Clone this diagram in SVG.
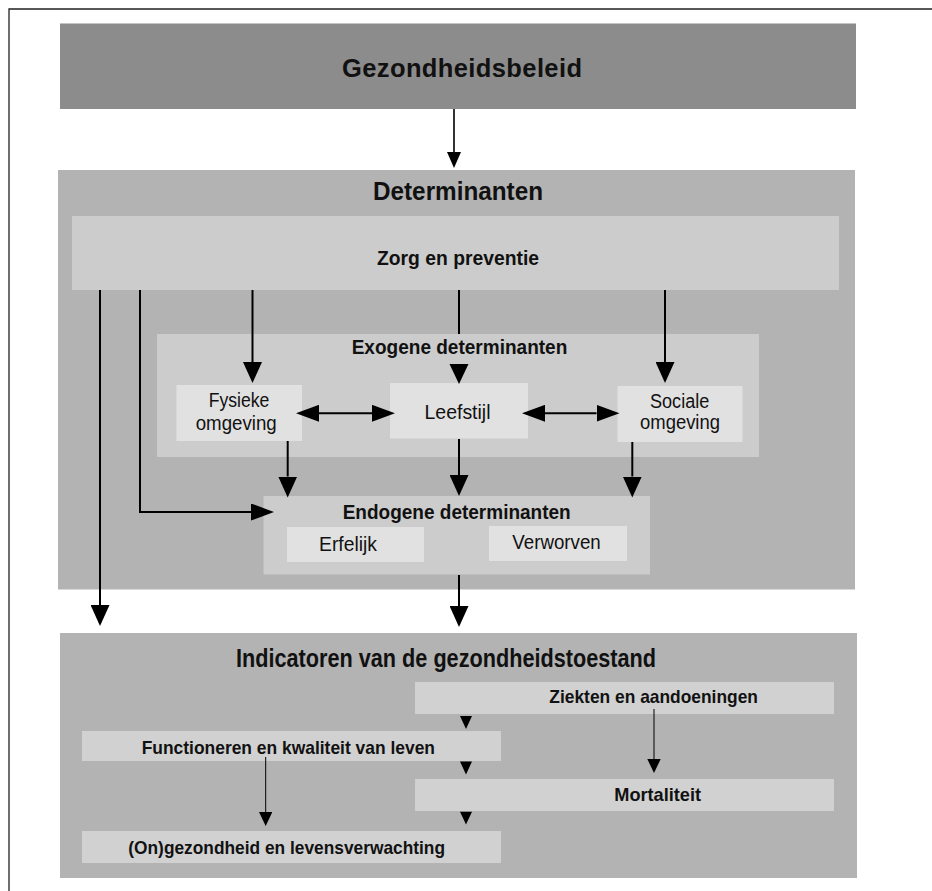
<svg xmlns="http://www.w3.org/2000/svg" width="932" height="891" viewBox="0 0 932 891">
<style>
  text { font-family: "Liberation Sans Narrow", "Liberation Sans", Arial, sans-serif; fill: #111; }
  .h1 { font-size: 25.5px; font-weight: bold; }
  .h2 { font-size: 21px; font-weight: bold; }
  .t { font-size: 25px; font-weight: bold; }
  .b { font-size: 19px; font-weight: bold; }
  .r { font-size: 19.5px; font-weight: normal; }
  .dark { fill: #8c8c8c; }
  .mid { fill: #b3b3b3; }
  .light { fill: #cccccc; }
  .pale { fill: #e1e1e1; }
  .ind { fill: #d1d1d1; }
  .heavy { fill: none; stroke: #000; stroke-width: 2; }
  .thin { fill: none; stroke: #000; stroke-width: 1; }
  .med { fill: none; stroke: #000; stroke-width: 1.6; }
  .tri { fill: #000; }
</style>
<defs>
  <marker id="ah" markerUnits="userSpaceOnUse" markerWidth="21" markerHeight="19" refX="0" refY="9.5" orient="auto-start-reverse">
    <path d="M0,0 L21,9.5 L0,19 Z" fill="#000"/>
  </marker>
  <marker id="ahd" markerUnits="userSpaceOnUse" markerWidth="23" markerHeight="17" refX="0" refY="8.5" orient="auto-start-reverse">
    <path d="M0,0 L23,8.5 L0,17 Z" fill="#000"/>
  </marker>
  <marker id="ahm" markerUnits="userSpaceOnUse" markerWidth="16" markerHeight="14" refX="0" refY="7" orient="auto">
    <path d="M0,0 L16,7 L0,14 Z" fill="#000"/>
  </marker>
  <marker id="ahs" markerUnits="userSpaceOnUse" markerWidth="14" markerHeight="13.4" refX="0" refY="6.7" orient="auto">
    <path d="M0,0 L14,6.7 L0,13.4 Z" fill="#000"/>
  </marker>
</defs>

<path d="M9,891 V9 H932" fill="none" stroke="#222" stroke-width="1.3"/>

<g id="gezondheidsbeleid">
  <rect class="dark" x="60" y="23.5" width="796" height="85.5"/>
  <text class="h1" x="342" y="77" textLength="240" lengthAdjust="spacing">Gezondheidsbeleid</text>
</g>

<g id="determinanten">
  <rect class="mid" x="58" y="170" width="797" height="419.5"/>
  <text class="h1" x="373" y="200" textLength="170" lengthAdjust="spacingAndGlyphs">Determinanten</text>
</g>

<g id="zorg">
  <rect class="light" x="72" y="216" width="767" height="74"/>
  <text class="h2" x="377" y="265" textLength="162" lengthAdjust="spacingAndGlyphs">Zorg en preventie</text>
</g>

<g id="exogeen">
  <rect class="light" x="157" y="334" width="602" height="123"/>
  <text class="h2" x="351.7" y="354" textLength="215.6" lengthAdjust="spacingAndGlyphs">Exogene determinanten</text>
</g>

<g id="fysieke">
  <rect class="pale" x="176.5" y="385" width="125.5" height="56"/>
  <text class="r" x="208.7" y="407" textLength="60.7" lengthAdjust="spacingAndGlyphs">Fysieke</text>
  <text class="r" x="195.7" y="430" textLength="81" lengthAdjust="spacingAndGlyphs">omgeving</text>
</g>

<g id="leefstijl">
  <rect class="pale" x="390" y="383" width="138" height="55.5"/>
  <text class="r" x="424.5" y="419" textLength="66" lengthAdjust="spacingAndGlyphs">Leefstijl</text>
</g>

<g id="sociale">
  <rect class="pale" x="617.5" y="386" width="125" height="56"/>
  <text class="r" x="650" y="408.3" textLength="59.3" lengthAdjust="spacingAndGlyphs">Sociale</text>
  <text class="r" x="640" y="429.3" textLength="80" lengthAdjust="spacingAndGlyphs">omgeving</text>
</g>

<g id="endogeen">
  <rect class="light" x="263.5" y="496" width="386.5" height="78.5"/>
  <text class="h2" x="342.7" y="519.3" textLength="228" lengthAdjust="spacingAndGlyphs">Endogene determinanten</text>
</g>

<g id="erfelijk">
  <rect class="pale" x="287" y="527" width="137" height="35"/>
  <text class="r" x="319" y="551" textLength="58" lengthAdjust="spacingAndGlyphs">Erfelijk</text>
</g>

<g id="verworven">
  <rect class="pale" x="489" y="526" width="138" height="35"/>
  <text class="r" x="512.3" y="549" textLength="88.4" lengthAdjust="spacingAndGlyphs">Verworven</text>
</g>

<g id="indicatoren">
  <rect class="mid" x="60" y="633" width="797" height="245"/>
  <text class="t" x="236" y="667" textLength="420" lengthAdjust="spacingAndGlyphs">Indicatoren van de gezondheidstoestand</text>
</g>

<g id="ziekten">
  <rect class="ind" x="415" y="682" width="419" height="32"/>
  <text class="b" x="549.3" y="703" textLength="208.7" lengthAdjust="spacingAndGlyphs">Ziekten en aandoeningen</text>
</g>

<g id="functioneren">
  <rect class="ind" x="82" y="731" width="419" height="30"/>
  <text class="b" x="141.7" y="753.7" textLength="293.3" lengthAdjust="spacingAndGlyphs">Functioneren en kwaliteit van leven</text>
</g>

<g id="mortaliteit">
  <rect class="ind" x="415" y="779" width="419" height="32"/>
  <text class="b" x="614.3" y="800.5" textLength="86.7" lengthAdjust="spacingAndGlyphs">Mortaliteit</text>
</g>

<g id="levensverwachting">
  <rect class="ind" x="82" y="831" width="419" height="32"/>
  <text class="b" x="128.3" y="854" textLength="316.7" lengthAdjust="spacingAndGlyphs">(On)gezondheid en levensverwachting</text>
</g>

<g id="connectors">
  <path class="med" d="M454,109 V152" marker-end="url(#ahm)"/>
  <path class="heavy" d="M100,290 V605" marker-end="url(#ah)"/>
  <path class="heavy" d="M140,290 V512 H251" marker-end="url(#ahd)"/>
  <path class="heavy" d="M252.5,290 V362" marker-end="url(#ah)"/>
  <path class="heavy" d="M459,290 V334"/>
  <polygon class="tri" points="449.5,364 468.5,364 459,384"/>
  <path class="heavy" d="M665,290 V362" marker-end="url(#ah)"/>
  <path class="heavy" d="M319,413.3 H372" marker-start="url(#ahd)" marker-end="url(#ahd)"/>
  <path class="heavy" d="M545,413.3 H596.5" marker-start="url(#ahd)" marker-end="url(#ahd)"/>
  <path class="heavy" d="M287.7,441 V476.5" marker-end="url(#ah)"/>
  <path class="heavy" d="M459,439 V475" marker-end="url(#ah)"/>
  <path class="heavy" d="M632.3,442 V476.5" marker-end="url(#ah)"/>
  <path class="heavy" d="M459,575 V606" marker-end="url(#ah)"/>
  <polygon class="tri" points="460,716 472,716 466,729"/>
  <polygon class="tri" points="460,761.5 472,761.5 466,774.5"/>
  <polygon class="tri" points="460,811.7 472,811.7 466,824.5"/>
  <path class="thin" d="M654,709 V759" marker-end="url(#ahs)"/>
  <path class="thin" d="M265.7,757 V812" marker-end="url(#ahs)"/>
</g>
</svg>
